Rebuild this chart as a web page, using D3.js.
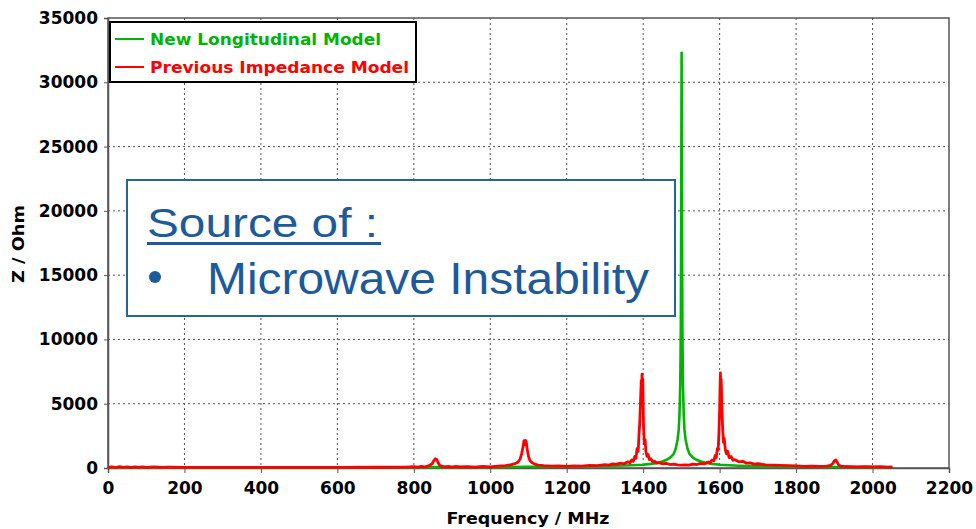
<!DOCTYPE html>
<html>
<head>
<meta charset="utf-8">
<script src="https://cdn.jsdelivr.net/npm/d3@7"></script>
<style>
  body { margin: 0; background: #fff; }
  svg { display: block; }
</style>
</head>
<body>
<svg id="chart" width="976" height="529"></svg>
<script>
// values (frequency in MHz, impedance in Ohm)
var xTicks = [0, 200, 400, 600, 800, 1000, 1200, 1400, 1600, 1800, 2000, 2200];
var yTicks = [0, 5000, 10000, 15000, 20000, 25000, 30000, 35000];

var greenFreq = [0, 100, 200, 400, 600, 800, 860, 1000, 1090, 1200, 1300, 1350, 1400, 1420, 1440, 1450, 1460, 1470, 1480, 1485, 1490, 1493, 1495, 1497, 1498.5, 1499.5, 1500.5, 1501.5, 1502.5, 1504, 1506, 1508, 1511, 1516, 1521, 1531, 1541, 1551, 1561, 1581, 1601, 1650, 1700, 1800, 1900, 2000, 2052];
var greenZ    = [20, 30, 20, 25, 30, 40, 80, 60, 100, 100, 160, 200, 250, 320, 420, 500, 620, 780, 1100, 1500, 2200, 3000, 4200, 6500, 11000, 20000, 32300, 20000, 11000, 6500, 4200, 3000, 2200, 1500, 1100, 780, 620, 500, 420, 320, 250, 180, 140, 100, 80, 70, 60];

var redFreq = [0, 10, 20, 30, 40, 50, 60, 70, 80, 90, 100, 120, 140, 160, 200, 300, 400, 500, 600, 700, 780, 800, 810, 820, 830, 840, 848, 852, 856, 860, 864, 868, 874, 880, 890, 900, 910, 920, 940, 960, 980, 1000, 1020, 1040, 1055, 1065, 1072, 1078, 1082, 1086, 1088, 1090, 1092, 1094, 1097, 1100, 1104, 1110, 1116, 1125, 1140, 1160, 1180, 1200, 1220, 1240, 1260, 1280, 1300, 1310, 1320, 1330, 1340, 1350, 1360, 1365, 1370, 1374, 1378, 1381, 1384, 1387, 1389, 1391, 1393, 1395, 1396, 1397, 1398, 1399, 1400, 1401, 1403, 1405, 1407, 1410, 1413, 1416, 1420, 1425, 1430, 1435, 1440, 1450, 1460, 1470, 1480, 1490, 1500, 1510, 1520, 1530, 1540, 1550, 1560, 1570, 1575, 1580, 1585, 1588, 1591, 1594, 1596, 1598, 1600, 1601, 1602, 1603, 1604, 1606, 1608, 1610, 1612, 1615, 1618, 1621, 1625, 1630, 1635, 1640, 1650, 1660, 1670, 1680, 1690, 1700, 1720, 1740, 1760, 1780, 1800, 1820, 1840, 1860, 1880, 1890, 1896, 1900, 1904, 1908, 1912, 1920, 1940, 1960, 1980, 2000, 2020, 2040, 2052];
var redZ    = [50, 90, 30, 100, 40, 80, 30, 90, 50, 80, 40, 80, 50, 60, 50, 50, 50, 50, 50, 60, 70, 110, 60, 120, 90, 180, 330, 560, 720, 640, 380, 200, 120, 80, 130, 70, 120, 80, 110, 70, 120, 90, 140, 180, 260, 340, 450, 700, 1100, 1700, 2100, 1800, 2150, 2050, 1400, 900, 560, 400, 300, 220, 180, 140, 160, 130, 160, 150, 200, 190, 260, 230, 320, 280, 380, 330, 480, 400, 620, 520, 900, 750, 1500, 1300, 2600, 3500, 5200, 6800, 5800, 7300, 6200, 6900, 4800, 3200, 1900, 2200, 1300, 900, 1050, 650, 720, 480, 520, 380, 420, 330, 360, 270, 300, 240, 220, 250, 230, 300, 270, 360, 320, 460, 400, 620, 560, 950, 800, 1500, 1400, 2600, 4500, 6200, 7400, 6000, 6900, 4600, 3000, 2000, 2300, 1400, 1100, 1300, 800, 900, 600, 650, 480, 520, 380, 400, 300, 330, 250, 230, 200, 180, 160, 130, 140, 120, 150, 200, 350, 560, 620, 420, 200, 120, 110, 90, 110, 80, 100, 70, 90];

var seriesNames = ["New Longitudinal Model", "Previous Impedance Model"];
var seriesColors = ["#00b400", "#ff0000"];

var svg = d3.select("#chart");
var pLeft = 108, pRight = 949, pTop = 18, pBottom = 468;

var x = d3.scaleLinear().domain([0, 2200]).range([pLeft, pRight]);
var y = d3.scaleLinear().domain([0, 35000]).range([pBottom, pTop]);

var fontTick = "'DejaVu Sans', Verdana, sans-serif";

// grid
var grid = svg.append("g");
grid.selectAll(".gx").data(xTicks.slice(1, -1)).enter().append("line")
  .attr("x1", function(d) { return x(d); }).attr("x2", function(d) { return x(d); })
  .attr("y1", pTop).attr("y2", pBottom)
  .attr("stroke", "#555").attr("stroke-width", 1).attr("stroke-dasharray", "2,3");
grid.selectAll(".gy").data(yTicks.slice(1, -1)).enter().append("line")
  .attr("x1", pLeft).attr("x2", pRight)
  .attr("y1", function(d) { return y(d); }).attr("y2", function(d) { return y(d); })
  .attr("stroke", "#555").attr("stroke-width", 1).attr("stroke-dasharray", "2,3");

// frame
svg.append("rect").attr("x", pLeft).attr("y", pTop)
  .attr("width", pRight - pLeft).attr("height", pBottom - pTop)
  .attr("fill", "none").attr("stroke", "#555").attr("stroke-width", 1.5);

// axes
var xAxis = svg.append("g").attr("transform", "translate(0," + pBottom + ")")
  .call(d3.axisBottom(x).tickValues(xTicks).tickSize(5).tickPadding(9).tickFormat(d3.format("d")));
var yAxis = svg.append("g").attr("transform", "translate(" + pLeft + ",0)")
  .call(d3.axisLeft(y).tickValues(yTicks).tickSize(4).tickPadding(6).tickFormat(d3.format("d")));
[xAxis, yAxis].forEach(function(a) {
  a.select(".domain").attr("stroke", "#555").attr("stroke-width", 1.5);
  a.selectAll(".tick line").attr("stroke", "#555");
  a.selectAll("text").attr("font-family", fontTick).attr("font-weight", "bold")
    .attr("font-size", 17).attr("fill", "#000");
});

// axis titles
svg.append("text").attr("x", 528).attr("y", 524).attr("text-anchor", "middle")
  .attr("font-family", fontTick).attr("font-weight", "bold").attr("font-size", 16)
  .attr("textLength", 163).attr("lengthAdjust", "spacingAndGlyphs")
  .text("Frequency / MHz");
svg.append("text").attr("transform", "translate(24,244) rotate(-90)").attr("text-anchor", "middle")
  .attr("font-family", fontTick).attr("font-weight", "bold").attr("font-size", 16)
  .attr("textLength", 78).attr("lengthAdjust", "spacingAndGlyphs")
  .text("Z / Ohm");

// lines
var line = d3.line().x(function(d) { return x(d[0]); }).y(function(d) { return y(d[1]); });
var greenData = greenFreq.map(function(f, i) { return [f, greenZ[i]]; });
var redData = redFreq.map(function(f, i) { return [f, redZ[i]]; });

svg.append("path").datum(greenData).attr("d", line)
  .attr("fill", "none").attr("stroke", seriesColors[0]).attr("stroke-width", 2.6)
  .attr("stroke-linejoin", "round");
svg.append("path").datum(redData).attr("d", line)
  .attr("fill", "none").attr("stroke", seriesColors[1]).attr("stroke-width", 2.8)
  .attr("stroke-linejoin", "round");

// legend
var lg = svg.append("g");
lg.append("rect").attr("x", 110).attr("y", 22).attr("width", 306).attr("height", 60)
  .attr("fill", "#fff").attr("stroke", "#000").attr("stroke-width", 2);
var lgW = [231, 259];
seriesNames.forEach(function(name, i) {
  var yy = 39 + i * 28;
  lg.append("line").attr("x1", 115).attr("x2", 144).attr("y1", yy).attr("y2", yy)
    .attr("stroke", seriesColors[i]).attr("stroke-width", 2);
  lg.append("text").attr("x", 150).attr("y", yy + 6)
    .attr("font-family", fontTick).attr("font-weight", "bold").attr("font-size", 15)
    .attr("textLength", lgW[i]).attr("lengthAdjust", "spacingAndGlyphs")
    .attr("fill", seriesColors[i]).text(name);
});

// annotation box
var blue = "#1c5a9c";
var ann = svg.append("g");
ann.append("rect").attr("x", 127).attr("y", 180).attr("width", 548).attr("height", 136)
  .attr("fill", "#fff").attr("stroke", "#2463a6").attr("stroke-width", 2);
ann.append("text").attr("x", 147).attr("y", 237)
  .attr("font-family", "'Liberation Sans', Arial, sans-serif").attr("font-size", 41)
  .attr("textLength", 231).attr("lengthAdjust", "spacingAndGlyphs")
  .attr("fill", blue).text("Source of :");
ann.append("rect").attr("x", 147).attr("y", 242).attr("width", 234).attr("height", 3).attr("fill", blue);
ann.append("circle").attr("cx", 155).attr("cy", 277).attr("r", 6).attr("fill", blue);
ann.append("text").attr("x", 207).attr("y", 294)
  .attr("font-family", "'Liberation Sans', Arial, sans-serif").attr("font-size", 45)
  .attr("textLength", 442).attr("lengthAdjust", "spacingAndGlyphs")
  .attr("fill", blue).text("Microwave Instability");
</script>
</body>
</html>
